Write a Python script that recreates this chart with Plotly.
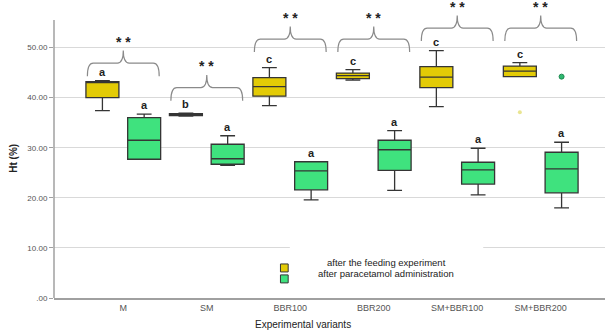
import plotly.graph_objects as go

categories = ["M", "SM", "BBR100", "BBR200", "SM+BBR100", "SM+BBR200"]

# after the feeding experiment (yellow)
feed_low = [37.4, 36.3, 38.4, 43.5, 38.2, 44.2]
feed_q1 = [40.0, 36.4, 40.3, 43.8, 42.0, 44.2]
feed_med = [43.0, 36.6, 42.2, 44.4, 44.1, 45.3]
feed_q3 = [43.2, 36.8, 44.0, 44.9, 46.2, 46.3]
feed_up = [43.4, 36.9, 46.0, 45.6, 49.4, 47.0]
feed_out_cat = ["SM+BBR200"]
feed_out_val = [37.1]
feed_letters = ["a", "b", "c", "c", "c", "c"]

# after paracetamol administration (green)
para_low = [27.7, 26.5, 19.6, 21.5, 20.6, 18.0]
para_q1 = [27.7, 26.7, 21.6, 25.5, 22.75, 21.0]
para_med = [31.5, 27.8, 25.4, 29.6, 25.6, 25.8]
para_q3 = [36.0, 30.7, 27.2, 31.5, 27.1, 29.1]
para_up = [36.7, 32.4, 27.2, 33.4, 29.9, 31.1]
para_out_cat = ["SM+BBR200"]
para_out_val = [44.2]
para_letters = ["a", "a", "a", "a", "a", "a"]

sig_labels = ["* *"] * 6
bracket_levels = [46.9, 42.0, 51.7, 51.7, 53.9, 53.9]

ytick_vals = [0, 10, 20, 30, 40, 50]
ytick_text = [".00", "10.00", "20.00", "30.00", "40.00", "50.00"]

YELLOW = "#E3CB06"
GREEN = "#3FE27E"
EDGE = "#353535"
FONT = "Liberation Sans, Arial, sans-serif"

XR = [-0.83, 5.77]
YR = [0, 59.1]

def px(v):
    return (v - XR[0]) / (XR[1] - XR[0])

def py(v):
    return (v - YR[0]) / (YR[1] - YR[0])

fig = go.Figure()
fig.add_trace(go.Box(
    name="after the feeding experiment", x=categories,
    q1=feed_q1, median=feed_med, q3=feed_q3,
    lowerfence=feed_low, upperfence=feed_up,
    fillcolor=YELLOW, line=dict(color=EDGE, width=1.3),
    whiskerwidth=0.45, boxpoints=False,
    offsetgroup="feed", alignmentgroup="g", showlegend=False,
))
fig.add_trace(go.Box(
    name="after paracetamol administration", x=categories,
    q1=para_q1, median=para_med, q3=para_q3,
    lowerfence=para_low, upperfence=para_up,
    fillcolor=GREEN, line=dict(color=EDGE, width=1.3),
    whiskerwidth=0.45, boxpoints=False,
    offsetgroup="para", alignmentgroup="g", showlegend=False,
))
fig.add_trace(go.Scatter(
    x=feed_out_cat, y=feed_out_val, mode="markers", offsetgroup="feed", alignmentgroup="g",
    marker=dict(color="rgba(225,220,110,0.75)", size=4, line=dict(width=0)), showlegend=False,
))
fig.add_trace(go.Scatter(
    x=para_out_cat, y=para_out_val, mode="markers", offsetgroup="para", alignmentgroup="g",
    marker=dict(color="#2FB870", size=5, line=dict(color="#1E8A50", width=1)), showlegend=False,
))

annotations = []
shapes = []
off = 0.25
for i in range(len(categories)):
    annotations.append(dict(x=i - off, y=feed_up[i], xref="x", yref="y", text="<b>%s</b>" % feed_letters[i],
                            showarrow=False, yanchor="bottom", yshift=1,
                            font=dict(family=FONT, size=11, color="#222")))
    annotations.append(dict(x=i + off, y=para_up[i], xref="x", yref="y", text="<b>%s</b>" % para_letters[i],
                            showarrow=False, yanchor="bottom", yshift=1,
                            font=dict(family=FONT, size=11, color="#222")))
    # curly bracket
    c = i
    hw = 0.43
    r = 0.07
    yh = bracket_levels[i]
    d = 2.6
    p = 2.5
    x0, x1 = c - hw, c + hw
    path = (
        f"M {px(x0)},{py(yh - d)} Q {px(x0)},{py(yh)} {px(x0 + r)},{py(yh)} "
        f"L {px(c - r)},{py(yh)} Q {px(c)},{py(yh)} {px(c)},{py(yh + p)} "
        f"Q {px(c)},{py(yh)} {px(c + r)},{py(yh)} "
        f"L {px(x1 - r)},{py(yh)} Q {px(x1)},{py(yh)} {px(x1)},{py(yh - d)}"
    )
    shapes.append(dict(type="path", xref="paper", yref="paper", path=path,
                       line=dict(color="#8A8A8A", width=1.2)))
    annotations.append(dict(x=c, y=yh + p, xref="x", yref="y", text="<b>%s</b>" % sig_labels[i],
                            showarrow=False, yanchor="bottom", yshift=-1,
                            font=dict(family=FONT, size=14, color="#222")))

# y-axis spine
shapes.append(dict(type="line", xref="paper", yref="paper", x0=0, x1=0, y0=0, y1=py(55.5),
                   line=dict(color="#A0A0A0", width=1.5)))

# legend (manual)
shapes.append(dict(type="rect", xref="paper", yref="paper", x0=0.428, x1=0.779, y0=0.008, y1=0.172,
                   fillcolor="white", line=dict(width=0), layer="above"))
shapes.append(dict(type="rect", xref="paper", yref="paper", x0=0.411, x1=0.425, y0=0.088, y1=0.115,
                   fillcolor=YELLOW, line=dict(color=EDGE, width=1), layer="above"))
shapes.append(dict(type="rect", xref="paper", yref="paper", x0=0.411, x1=0.425, y0=0.051, y1=0.078,
                   fillcolor=GREEN, line=dict(color=EDGE, width=1), layer="above"))
annotations.append(dict(x=0.603, y=0.119, xref="paper", yref="paper", text="after the feeding experiment",
                        showarrow=False, xanchor="center", yanchor="middle",
                        font=dict(family=FONT, size=9.5, color="#222")))
annotations.append(dict(x=0.603, y=0.083, xref="paper", yref="paper", text="after paracetamol administration",
                        showarrow=False, xanchor="center", yanchor="middle",
                        font=dict(family=FONT, size=9.5, color="#222")))

# axis titles
annotations.append(dict(x=-0.073, y=0.473, xref="paper", yref="paper", text="<b>Ht (%)</b>",
                        showarrow=False, textangle=-90, xanchor="center", yanchor="middle",
                        font=dict(family=FONT, size=10, color="#222")))
annotations.append(dict(x=0.452, y=-0.091, xref="paper", yref="paper", text="Experimental variants",
                        showarrow=False, xanchor="center", yanchor="middle",
                        font=dict(family=FONT, size=10, color="#222")))

fig.update_layout(
    width=605, height=331,
    margin=dict(l=54, r=0, t=2, b=33),
    paper_bgcolor="white", plot_bgcolor="white",
    boxmode="group", boxgap=0, boxgroupgap=0.21,
    scattermode="group", scattergap=0,
    showlegend=False,
    font=dict(family=FONT, size=9, color="#555"),
    xaxis=dict(type="category", categoryorder="array", categoryarray=categories,
               range=XR, showline=True, linecolor="#A0A0A0", linewidth=1.5,
               showgrid=False, ticks="", tickfont=dict(family=FONT, size=9, color="#555"),
               zeroline=False),
    yaxis=dict(range=YR, tickvals=ytick_vals, ticktext=ytick_text, showline=False,
               showgrid=True, gridcolor="#D9D9D9", gridwidth=1.3, zeroline=False,
               ticks="outside", ticklen=4, tickcolor="#A0A0A0",
               tickfont=dict(family=FONT, size=8, color="#555")),
    annotations=annotations,
    shapes=shapes,
)

fig.write_html("out.html", config={"displayModeBar": False},
               post_script="document.body.style.margin='0';")
